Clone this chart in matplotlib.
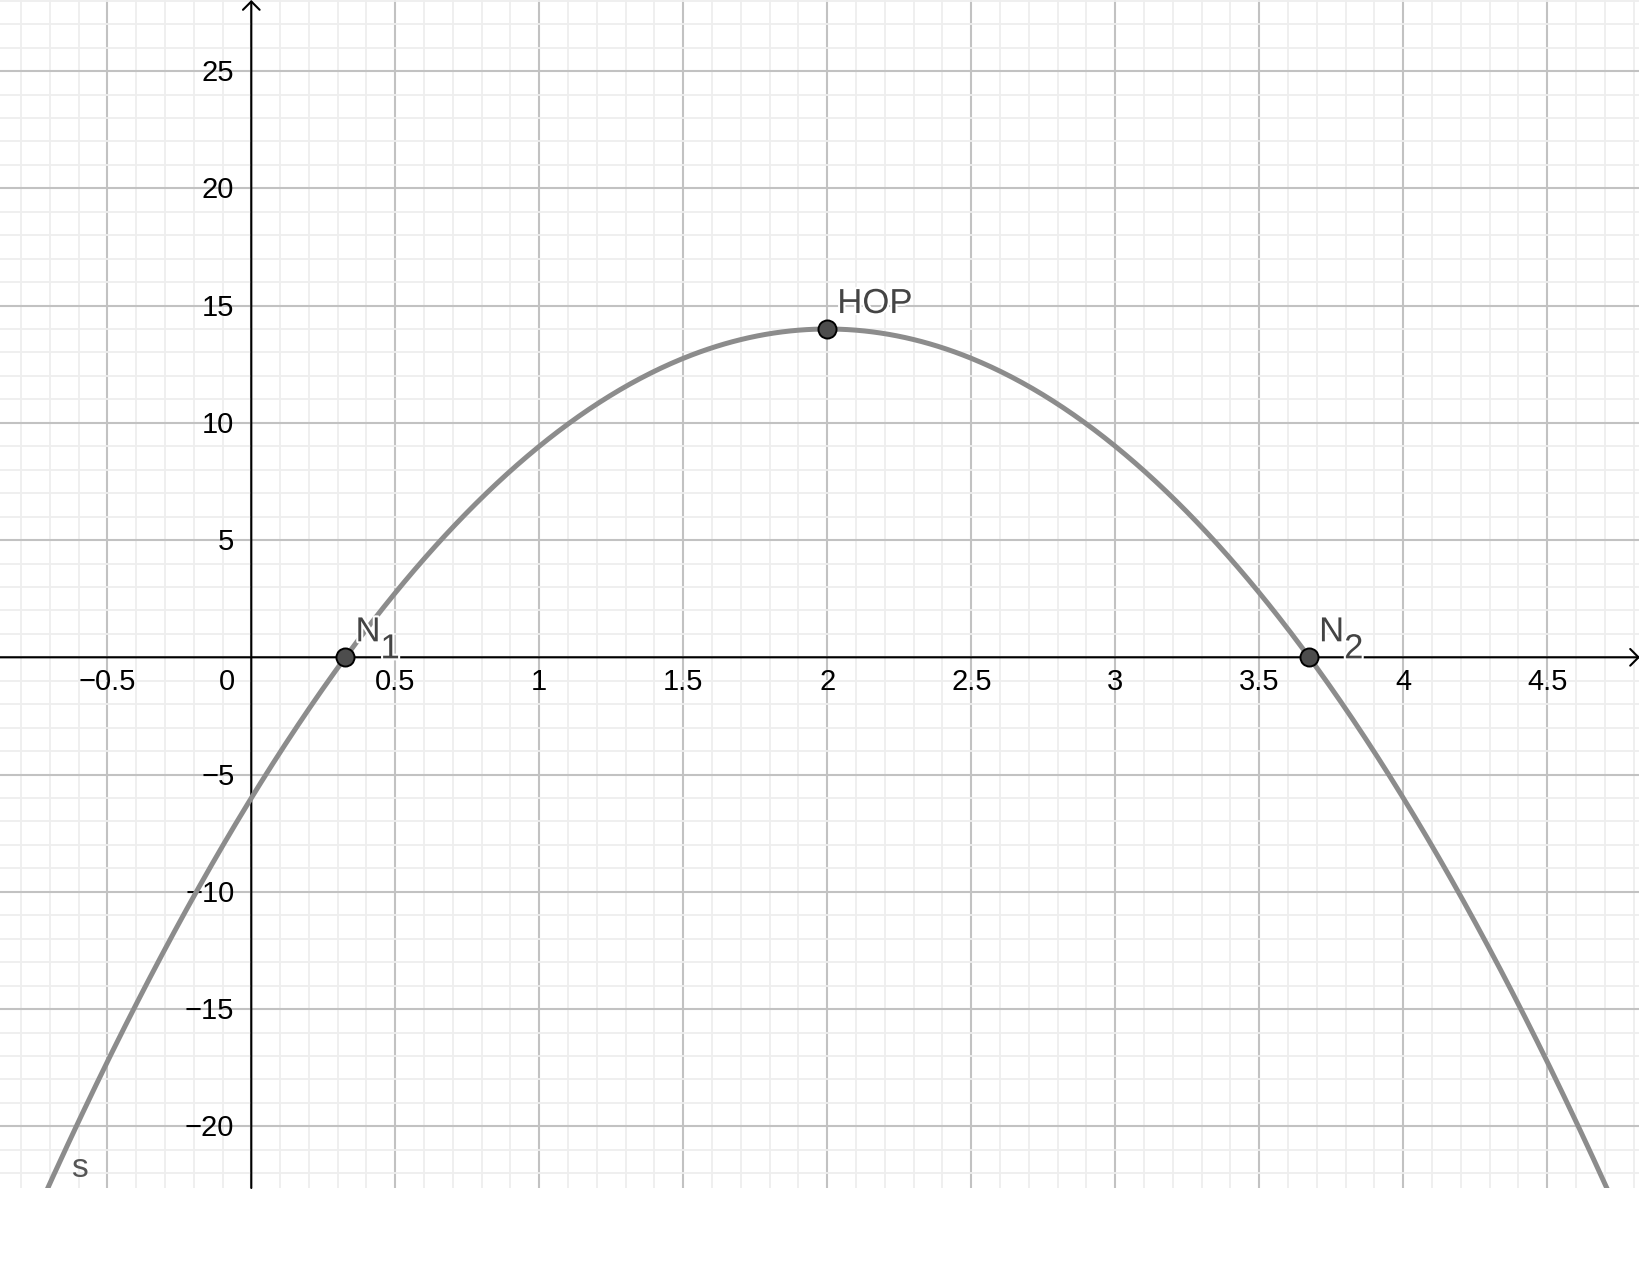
import numpy as np
import matplotlib
matplotlib.use("Agg")
import matplotlib.pyplot as plt
import matplotlib.patheffects as pe

plt.rcParams['font.family'] = ['Liberation Sans', 'DejaVu Sans']

# function s(x) = -5x^2 + 20x - 6
s_coeffs = [-5, 20, -6]

# labelled points
point_names = ["N1", "HOP", "N2"]
point_x = [0.327, 2.0, 3.673]
point_y = [0.0, 14.0, 0.0]

# tick labels
x_ticks = [-0.5, 0.5, 1, 1.5, 2, 2.5, 3, 3.5, 4, 4.5]
x_tick_labels = ["\u22120.5", "0.5", "1", "1.5", "2", "2.5", "3", "3.5", "4", "4.5"]
y_ticks = [-20, -15, -10, -5, 5, 10, 15, 20, 25]
y_tick_labels = ["\u221220", "\u221215", "\u221210", "\u22125", "5", "10", "15", "20", "25"]

xmin, xmax = -0.8726, 4.822
ymin, ymax = -22.63, 28.03

fig = plt.figure(figsize=(16.4, 12.68), dpi=100)
ax = fig.add_axes([0, 80 / 1268, 1, 1188 / 1268])
ax.set_xlim(xmin, xmax)
ax.set_ylim(ymin, ymax)

# grid
ax.set_xticks(np.arange(-0.5, 5.0, 0.5))
ax.set_xticks(np.arange(-0.8, 4.9, 0.1), minor=True)
ax.set_yticks(np.arange(-20, 30, 5))
ax.set_yticks(np.arange(-22, 29, 1), minor=True)
ax.grid(which='major', color='#c2c2c2', lw=1.5, zorder=0)
ax.grid(which='minor', color='#eeeeee', lw=1.3, zorder=0)
ax.set_axisbelow(True)
ax.tick_params(which='both', length=0, labelbottom=False, labelleft=False)
for sp in ax.spines.values():
    sp.set_visible(False)

# axes with arrows
arrow = dict(arrowstyle='->, head_length=0.3, head_width=0.3', lw=1.5, color='black',
             mutation_scale=20, shrinkA=0, shrinkB=0)
ax.annotate('', xy=(1, 0), xycoords=('axes fraction', 'data'),
            xytext=(0, 0), textcoords=('axes fraction', 'data'), arrowprops=arrow, zorder=2)
ax.annotate('', xy=(0, 1), xycoords=('data', 'axes fraction'),
            xytext=(0, 0), textcoords=('data', 'axes fraction'), arrowprops=arrow, zorder=2)

# tick labels
for v, lab in zip(x_ticks, x_tick_labels):
    ax.annotate(lab, (v, 0), xytext=(0, -25), textcoords='offset pixels',
                ha='center', va='center', fontsize=21, color='black')
ax.annotate("0", (0, 0), xytext=(-16, -25), textcoords='offset pixels',
            ha='right', va='center', fontsize=21, color='black')
for v, lab in zip(y_ticks, y_tick_labels):
    ax.annotate(lab, (0, v), xytext=(-17, -2), textcoords='offset pixels',
                ha='right', va='center', fontsize=21, color='black')

# curve
xs = np.linspace(xmin, xmax, 800)
ax.plot(xs, np.polyval(s_coeffs, xs), color='#8c8c8c', lw=3.6, zorder=3,
        solid_capstyle='butt')
ax.text(-0.598, -21.8, "s", fontsize=24, color='#555555', ha='center', va='center')

# points
ax.plot(point_x, point_y, 'o', ms=13, mfc='#4d4d4d', mec='black', mew=1.4, zorder=5)
halo = [pe.withStroke(linewidth=3, foreground='white')]
for name, px, py in zip(point_names, point_x, point_y):
    main = name.rstrip("0123456789")
    sub = name[len(main):]
    ax.annotate(main, (px, py), xytext=(10, 16), textcoords='offset pixels',
                ha='left', va='baseline', fontsize=25, color='#444444',
                path_effects=halo, zorder=6)
    if sub:
        ax.annotate(sub, (px, py), xytext=(35, -1), textcoords='offset pixels',
                    ha='left', va='baseline', fontsize=25, color='#444444',
                    path_effects=halo, zorder=6)

fig.savefig("out.png", dpi=100, facecolor='white')
